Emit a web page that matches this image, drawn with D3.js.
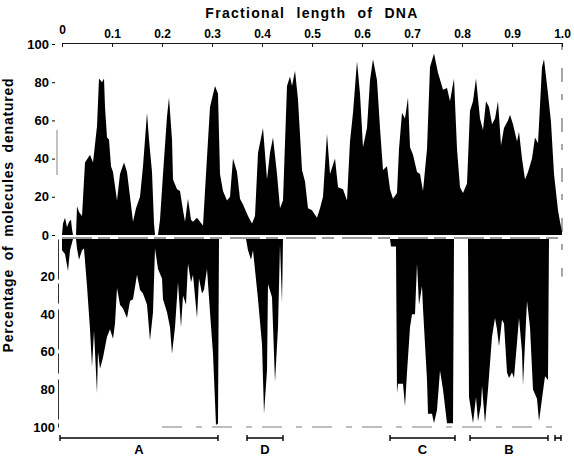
<!DOCTYPE html>
<html>
<head>
<meta charset="utf-8">
<script src="https://cdn.jsdelivr.net/npm/d3@7"></script>
<style>
  body { margin: 0; background: #fff; }
  svg { display: block; font-family: "Liberation Sans", Arial, sans-serif; }
</style>
</head>
<body>
<svg width="574" height="459"></svg>
<script>
// upper profile: percentage of molecules denatured at each position
const topPos = [0, .002, .006, .010, .014, .018, .020, .022, .028, .030, .034, .040, .046, .056, .062, .070, .074, .080, .084, .086,
  .090, .094, .098, .102, .110, .116, .124, .130, .136, .142, .148, .156, .162, .170, .174, .180, .184, .186, .192, .196,
  .202, .210, .214, .220, .222, .230, .236, .242, .246, .252, .258, .262, .270, .276, .282, .288, .296, .306, .312, .316,
  .322, .330, .336, .342, .350, .356, .362, .372, .380, .386, .392, .402, .410, .416, .422, .430, .436, .442, .450, .456,
  .460, .466, .472, .480, .486, .492, .500, .510, .516, .522, .530, .536, .546, .552, .562, .570, .576, .582, .590, .596,
  .602, .610, .616, .622, .630, .636, .642, .650, .656, .662, .670, .674, .680, .686, .692, .696, .702, .710, .716, .722,
  .730, .736, .744, .752, .762, .770, .776, .784, .790, .796, .802, .810, .816, .822, .828, .836, .842, .848, .854, .860,
  .866, .872, .878, .884, .892, .896, .902, .910, .914, .920, .926, .932, .940, .946, .952, .960, .964, .972, .978, .984,
  .992, .996, 1.0];
const topPct = [0, 6, 9, 4, 7, 8, 3, 0, 0, 15, 12, 10, 38, 42, 38, 57, 82, 80, 82, 67,
  51, 50, 36, 33, 18, 32, 38, 33, 20, 7, 14, 20, 36, 64, 50, 33, 6, 0, 0, 8,
  32, 62, 72, 50, 29, 24, 23, 13, 7, 19, 8, 7, 9, 7, 5, 32, 67, 78, 74, 32,
  23, 18, 20, 40, 33, 19, 16, 10, 6, 10, 43, 56, 29, 43, 51, 32, 14, 18, 78, 83,
  78, 86, 71, 34, 28, 14, 13, 9, 14, 20, 53, 32, 40, 25, 24, 18, 49, 64, 91, 74,
  46, 56, 81, 92, 81, 56, 34, 36, 24, 19, 22, 45, 64, 61, 72, 46, 42, 33, 32, 23,
  45, 88, 95, 85, 76, 77, 70, 82, 45, 25, 22, 27, 65, 70, 82, 61, 55, 70, 67, 58,
  61, 70, 47, 56, 60, 63, 58, 49, 54, 40, 29, 33, 40, 51, 48, 88, 92, 74, 59, 32,
  13, 7, 2];

// lower profile
const botPos = [0, .006, .012, .016, .020, .022, .028, .030, .034, .040, .044, .050, .056, .060, .064, .070, .072, .076, .082, .090,
  .096, .102, .106, .110, .116, .122, .130, .136, .142, .150, .156, .162, .170, .176, .182, .186, .192, .200, .202, .210,
  .216, .220, .226, .232, .238, .242, .248, .252, .258, .262, .270, .274, .280, .284, .290, .296, .302, .308, .312, .314,
  .368, .372, .378, .382, .392, .400, .404, .410, .412, .420, .426, .432, .436, .440, .442,
  .656, .658, .668, .670, .672, .682, .686, .690, .696, .700, .706, .710, .714, .720, .722, .730, .732, .740, .744, .750,
  .756, .762, .770, .776, .782, .784,
  .812, .814, .822, .828, .832, .838, .840, .846, .852, .860, .866, .870, .874, .880, .884, .890, .894, .900, .904, .910,
  .914, .920, .922, .930, .936, .942, .950, .954, .960, .966, .972, .974, 1.0];
const botPct = [6, 8, 17, 6, 2, 0, 0, 5, 11, 6, 5, 25, 48, 68, 49, 82, 60, 69, 63, 52,
  48, 53, 45, 26, 35, 37, 42, 33, 32, 19, 27, 29, 35, 54, 39, 5, 16, 21, 32, 39,
  47, 61, 47, 23, 47, 30, 35, 13, 23, 19, 42, 21, 29, 27, 16, 39, 61, 99, 98, 0,
  0, 6, 11, 6, 32, 56, 93, 70, 24, 31, 76, 47, 3, 34, 0,
  0, 4, 4, 82, 77, 77, 89, 71, 47, 40, 40, 13, 35, 25, 37, 75, 93, 93, 98, 91,
  70, 80, 98, 98, 98, 0,
  0, 84, 98, 84, 97, 88, 78, 98, 80, 52, 42, 48, 57, 43, 45, 71, 74, 71, 74, 55,
  42, 60, 78, 33, 47, 80, 85, 97, 85, 73, 75, 0, 0];

const xTicks = [0, 0.1, 0.2, 0.3, 0.4, 0.5, 0.6, 0.7, 0.8, 0.9, 1.0];
const yTicksTop = [0, 20, 40, 60, 80, 100];
const yTicksBottom = [20, 40, 60, 80, 100];

// bracketed regions under the chart
const regionNames = ["A", "D", "C", "B", ""];
const regionStart = [-0.004, 0.37, 0.656, 0.816, 0.986];
const regionEnd = [0.312, 0.442, 0.786, 0.972, 0.998];

const svg = d3.select("svg");

const x = d3.scaleLinear().domain([0, 1]).range([62, 562]);
const yTop = d3.scaleLinear().domain([0, 100]).range([235, 44]);
const yBot = d3.scaleLinear().domain([0, 100]).range([239, 427]);

const topData = topPos.map((p, i) => ({ p, v: topPct[i] }));
const botData = botPos.map((p, i) => ({ p, v: botPct[i] }));

svg.append("path")
  .datum(topData)
  .attr("fill", "#000")
  .attr("d", d3.area().x(d => x(d.p)).y0(yTop(0)).y1(d => yTop(d.v)));

svg.append("path")
  .datum(botData)
  .attr("fill", "#000")
  .attr("d", d3.area().x(d => x(d.p)).y0(yBot(0)).y1(d => yBot(d.v)));

// thin dashed baseline of the lower profile
svg.append("line")
  .attr("x1", x(0)).attr("x2", x(1))
  .attr("y1", yBot(0) - 1).attr("y2", yBot(0) - 1)
  .attr("stroke", "#000").attr("stroke-width", 0.8)
  .attr("stroke-dasharray", "30 6 12 8");

svg.append("line")
  .attr("x1", x(0.2)).attr("x2", x(0.99))
  .attr("y1", yBot(100)).attr("y2", yBot(100))
  .attr("stroke", "#444").attr("stroke-width", 0.7)
  .attr("stroke-dasharray", "20 14 6 10");

// right hand broken edge
svg.append("line")
  .attr("x1", x(1)).attr("x2", x(1))
  .attr("y1", yTop(100)).attr("y2", yBot(20))
  .attr("stroke", "#222").attr("stroke-width", 0.8)
  .attr("stroke-dasharray", "6 18 14 12");

// top axis
const xAxis = svg.append("g")
  .attr("transform", "translate(0,43)")
  .call(d3.axisTop(x).tickValues(xTicks).tickSizeInner(-4).tickSizeOuter(0).tickPadding(5)
    .tickFormat(d => d === 0 ? "0" : d.toFixed(1)));
xAxis.select(".domain").attr("stroke-width", 0.9);
xAxis.selectAll("line").attr("stroke-width", 0.9);
xAxis.selectAll("text").attr("font-size", 12).attr("font-weight", "bold").attr("fill", "#000");
xAxis.selectAll(".tick").filter(d => d === 0).select("text").attr("dy", "-0.35em");

// left axes
const yAxisTop = svg.append("g")
  .attr("transform", "translate(55,0)")
  .call(d3.axisLeft(yTop).tickValues(yTicksTop).tickSizeInner(3).tickSizeOuter(0).tickPadding(3));
yAxisTop.select(".domain").remove();
yAxisTop.selectAll("text").attr("font-size", 13).attr("font-weight", "bold").attr("fill", "#000");

const yAxisBot = svg.append("g")
  .attr("transform", "translate(58,0)")
  .call(d3.axisLeft(yBot).tickValues(yTicksBottom).tickSizeInner(0).tickSizeOuter(0).tickPadding(3));
yAxisBot.select(".domain").attr("stroke-width", 0.8).attr("stroke-dasharray", "40 4 20 6");
yAxisBot.selectAll("text").attr("font-size", 13).attr("font-weight", "bold").attr("fill", "#000");

svg.append("line")
  .attr("x1", 57).attr("x2", 57)
  .attr("y1", 130).attr("y2", 175)
  .attr("stroke", "#999").attr("stroke-width", 1.2);

// title
svg.append("text")
  .attr("x", 312).attr("y", 18)
  .attr("text-anchor", "middle")
  .attr("font-size", 14).attr("font-weight", "bold")
  .attr("letter-spacing", 1.3).attr("word-spacing", 6)
  .text("Fractional length of DNA");

// y label
svg.append("text")
  .attr("transform", "translate(13,215) rotate(-90)")
  .attr("text-anchor", "middle")
  .attr("font-size", 14).attr("font-weight", "bold")
  .attr("letter-spacing", 0.8).attr("word-spacing", 4)
  .text("Percentage of molecules denatured");

// region brackets
const regions = regionNames.map((name, i) => ({ name, s: regionStart[i], e: regionEnd[i] }));
const br = svg.append("g").selectAll("g")
  .data(regions)
  .enter().append("g");

br.append("line")
  .attr("x1", d => x(d.s)).attr("x2", d => x(d.e))
  .attr("y1", 438).attr("y2", 438)
  .attr("stroke", "#000").attr("stroke-width", 1.6);
br.append("line")
  .attr("x1", d => x(d.s)).attr("x2", d => x(d.s))
  .attr("y1", 435).attr("y2", 441)
  .attr("stroke", "#000").attr("stroke-width", 1.4);
br.append("line")
  .attr("x1", d => x(d.e)).attr("x2", d => x(d.e))
  .attr("y1", 435).attr("y2", 441)
  .attr("stroke", "#000").attr("stroke-width", 1.4);
br.append("text")
  .attr("x", d => (x(d.s) + x(d.e)) / 2).attr("y", 454)
  .attr("text-anchor", "middle")
  .attr("font-size", 13).attr("font-weight", "bold")
  .text(d => d.name);
</script>
</body>
</html>
